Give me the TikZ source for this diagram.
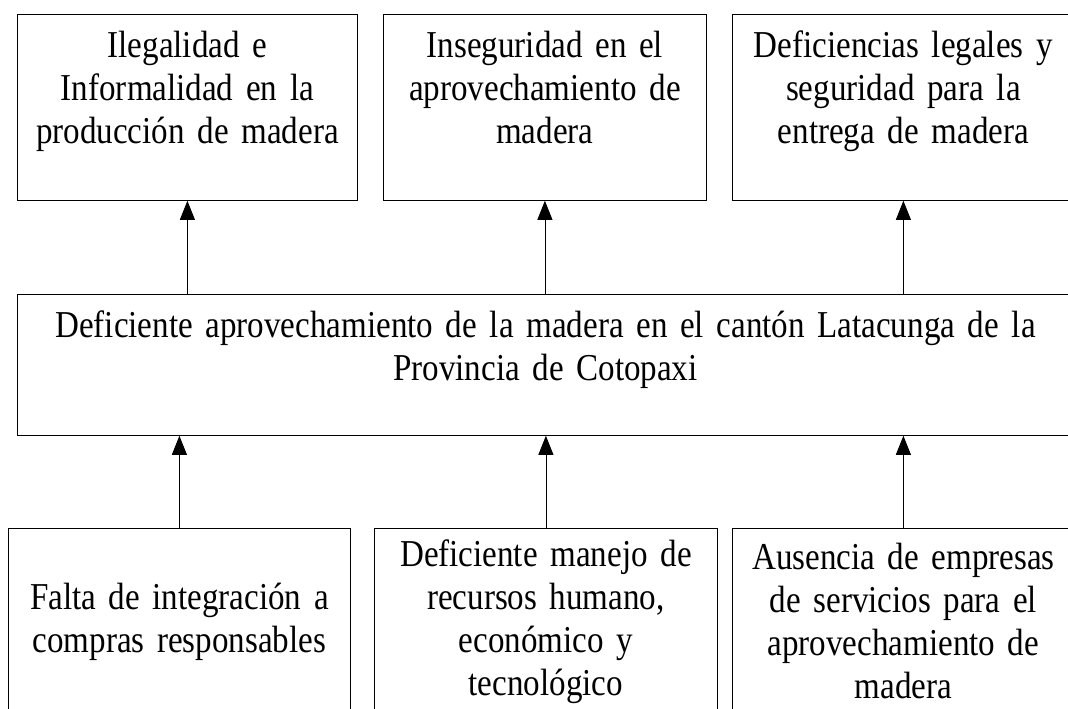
\documentclass[tikz,border=0pt]{standalone}
\usepackage{fontspec}
\setmainfont[FakeStretch=0.87,WordSpace=0.8]{Liberation Serif}
\usetikzlibrary{arrows.meta}

\begin{document}
\begin{tikzpicture}[x=1pt,y=-1pt,>={Triangle[length=19pt,width=15pt]},line width=0.8pt,
  every node/.style={font=\fontsize{38}{43}\selectfont},
  box/.style={draw,rectangle,inner sep=0pt,anchor=north west,align=center},
  efecto/.style={box,text height=43pt,text depth=143pt},
  causa/.style={box,minimum height=186pt}]
  \clip (0,0) rectangle (1068,709);
  % efectos
  \node[efecto,text width=340pt] (e1) at (17,14)  {Ilegalidad e\\Informalidad en la\\producción de madera};
  \node[efecto,text width=323pt] (e2) at (383,14) {Inseguridad en el\\aprovechamiento de\\madera};
  \node[efecto,text width=342pt] (e3) at (732,14) {Deficiencias legales y\\seguridad para la\\entrega de madera};
  % problema
  \node[box,text width=1056pt,text height=43pt,text depth=98pt] (p) at (17,294)
    {Deficiente aprovechamiento de la madera en el cantón Latacunga de la\\Provincia de Cotopaxi};
  % causas
  \node[causa,text width=342pt] (c1) at (8,528)   {Falta de integración a\\compras responsables};
  \node[causa,text width=343pt] (c2) at (374,528) {Deficiente manejo de\\recursos humano,\\económico y\\tecnológico};
  \node[causa,text width=342pt] (c3) at (732,528) {Ausencia de empresas\\de servicios para el\\aprovechamiento de\\madera};
  \path[->] (p.north -| e1.south) edge (e1.south);
  \path[->] (p.north -| e2.south) edge (e2.south);
  \path[->] (p.north -| e3.south) edge (e3.south);
  \path[->] (c1.north) edge (c1.north |- p.south);
  \path[->] (c2.north) edge (c2.north |- p.south);
  \path[->] (c3.north) edge (c3.north |- p.south);
\end{tikzpicture}
\end{document}
